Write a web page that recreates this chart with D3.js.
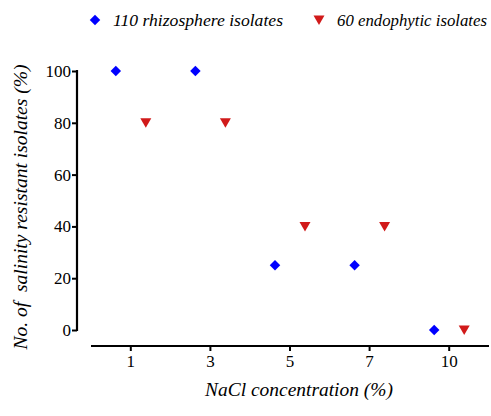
<!DOCTYPE html>
<html>
<head>
<meta charset="utf-8">
<script src="https://cdn.jsdelivr.net/npm/d3@7"></script>
<style>
  body { margin: 0; background: #fff; }
  svg text { font-family: "Liberation Serif", serif !important; }
</style>
</head>
<body>
<div id="chart"></div>
<script>
const FONT = "'Liberation Serif', serif";

// data
const CATEGORIES = ["1", "3", "5", "7", "10"];
const SERIES = ["110 rhizosphere isolates", "60 endophytic isolates"];
const RHIZO = [100, 100, 25, 25, 0];
const ENDO = [80, 80, 40, 40, 0];
const Y_TICKS = [0, 20, 40, 60, 80, 100];
const COLORS = ["#0000ff", "#d11a1a"];

const FRAME = d3.select("#chart")
  .append("svg")
    .attr("width", 491)
    .attr("height", 416);

const X_SCALE = d3.scaleBand()
  .domain(CATEGORIES)
  .range([91, 489]);

// offset of each series inside a category
const S_SCALE = d3.scaleBand()
  .domain(SERIES)
  .range([-30, 30]);

const Y_SCALE = d3.scaleLinear()
  .domain([0, 100])
  .range([330, 71]);

const diamond = d3.symbol().type(d3.symbolDiamond2).size(70);
const tri = "M-5.5,-4.5L5.5,-4.5L0,5Z";

// y axis
const yAxis = FRAME.append("g")
  .attr("transform", "translate(77,0)")
  .call(d3.axisLeft(Y_SCALE).tickValues(Y_TICKS).tickSize(5).tickPadding(1));
yAxis.attr("font-size", 17);
yAxis.select(".domain").attr("d", "M0," + (Y_SCALE(100) - 1) + "V" + (Y_SCALE(0) + 1)).attr("stroke-width", 2.2);
yAxis.selectAll(".tick line").attr("stroke-width", 2);

// x axis
const xAxis = FRAME.append("g")
  .attr("transform", "translate(0,346)")
  .call(d3.axisBottom(X_SCALE).tickSize(5).tickPadding(4));
xAxis.attr("font-size", 17);
xAxis.select(".domain").attr("d", "M91,0H489").attr("stroke-width", 2.2);
xAxis.selectAll(".tick line").attr("stroke-width", 2);

// points
const rows = [];
CATEGORIES.forEach((c, i) => {
  rows.push({cat: c, s: 0, v: RHIZO[i]});
  rows.push({cat: c, s: 1, v: ENDO[i]});
});

FRAME.selectAll(".pt")
  .data(rows)
  .enter()
  .append("path")
    .attr("class", "pt")
    .attr("d", (d) => d.s === 0 ? diamond() : tri)
    .attr("fill", (d) => COLORS[d.s])
    .attr("transform", (d) => "translate(" +
      (X_SCALE(d.cat) + X_SCALE.bandwidth() / 2 + S_SCALE(SERIES[d.s]) + S_SCALE.bandwidth() / 2) +
      "," + Y_SCALE(d.v) + ")");

// legend
const LEG_X = [95, 319];
const LEG_W = [170, 150];
const legend = FRAME.selectAll(".leg")
  .data(SERIES)
  .enter()
  .append("g")
    .attr("class", "leg")
    .attr("transform", (d, i) => "translate(" + LEG_X[i] + ",20)");
legend.append("path")
  .attr("d", (d, i) => i === 0 ? diamond() : tri)
  .attr("fill", (d, i) => COLORS[i]);
legend.append("text")
  .attr("x", 18)
  .attr("y", 6)
  .attr("font-size", 17.5)
  .attr("font-style", "italic")
  .attr("textLength", (d, i) => LEG_W[i])
  .attr("lengthAdjust", "spacingAndGlyphs")
  .text((d) => d);

// axis titles
FRAME.append("text")
  .attr("x", 299)
  .attr("y", 396)
  .attr("text-anchor", "middle")
  .attr("font-size", 19)
  .attr("font-style", "italic")
  .attr("textLength", 188)
  .attr("lengthAdjust", "spacingAndGlyphs")
  .text("NaCl concentration (%)");

FRAME.append("text")
  .attr("transform", "translate(27,207) rotate(-90)")
  .attr("text-anchor", "middle")
  .attr("font-size", 19)
  .attr("font-style", "italic")
  .attr("textLength", 285)
  .attr("lengthAdjust", "spacingAndGlyphs")
  .attr("xml:space", "preserve")
  .style("white-space", "pre")
  .text("No. of  salinity resistant isolates (%)");

// force the serif face on every text
FRAME.selectAll("text").style("font-family", FONT, "important");
</script>
</body>
</html>
